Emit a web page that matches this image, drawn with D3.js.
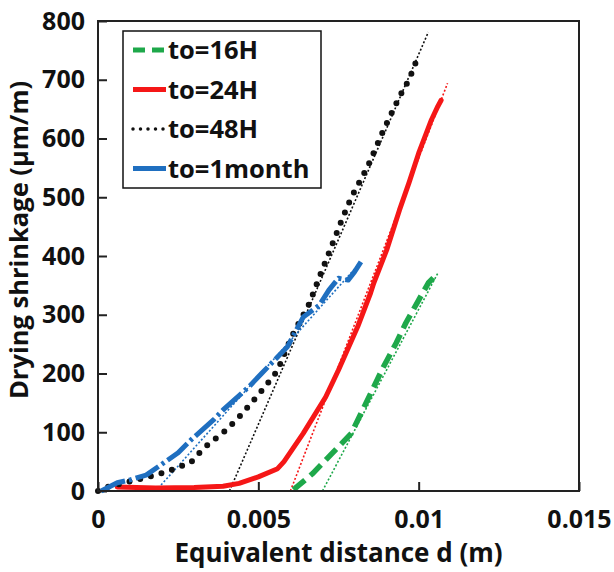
<!DOCTYPE html>
<html>
<head>
<meta charset="utf-8">
<script src="https://cdn.jsdelivr.net/npm/d3@7"></script>
<style>
  body { margin: 0; background: #fff; }
  text { font-family: "Open Sans", sans-serif; font-weight: bold; fill: #111; }
</style>
</head>
<body>
<div id="chart"></div>
<script>
// measured series, [d (m), shrinkage (µm/m)]
var pts16 = [[0.0061, 2], [0.0062, 7], [0.0067, 30], [0.0073, 64], [0.0079, 98], [0.0082, 132],
  [0.0086, 177], [0.0089, 211], [0.0093, 252], [0.0096, 286], [0.0100, 325], [0.0103, 354],
  [0.0106, 371]];
var pts24 = [[0.0006, 7], [0.0018, 5], [0.0030, 6], [0.0039, 8], [0.0044, 13], [0.0050, 24],
  [0.0056, 38], [0.0058, 50], [0.0064, 98], [0.0071, 160], [0.0075, 206], [0.0081, 280],
  [0.0085, 337], [0.0086, 354], [0.0090, 410], [0.0094, 478], [0.0097, 525], [0.0100, 575],
  [0.0104, 632], [0.0106, 655], [0.0107, 665]];
var pts48 = [[0.0000, 0], [0.0003, 7], [0.0012, 19], [0.0018, 27], [0.0023, 36], [0.0029, 49],
  [0.0033, 73], [0.0040, 104], [0.0044, 126], [0.0048, 151], [0.0052, 177], [0.0056, 205],
  [0.0059, 245], [0.0061, 269], [0.0066, 320], [0.0069, 364], [0.0072, 405], [0.0076, 461],
  [0.0079, 500], [0.0084, 551], [0.0089, 614], [0.0094, 671], [0.0097, 700], [0.0100, 742]];
var pts1m = [[0.0001, 0], [0.0006, 14], [0.0010, 19], [0.0015, 27], [0.0025, 65], [0.0029, 87],
  [0.0036, 121], [0.0039, 138], [0.0047, 177], [0.0051, 200], [0.0059, 245], [0.0064, 296],
  [0.0069, 316], [0.0072, 342], [0.0075, 362], [0.0078, 359], [0.0080, 373], [0.0082, 390]];

// fitted straight lines (start, end)
var fit16 = [[0.0070, 0], [0.0106, 371]];
var fit24 = [[0.0060, 0], [0.0109, 694]];
var fit48 = [[0.0041, 0], [0.0103, 781]];
var fit1m = [[0.0018, 0], [0.0082, 390]];

var xTicks = [0, 0.005, 0.01, 0.015];
var xTickLabels = ["0", "0.005", "0.01", "0.015"];
var yTicks = [0, 100, 200, 300, 400, 500, 600, 700, 800];
var seriesNames = ["to=16H", "to=24H", "to=48H", "to=1month"];

var W = 614, H = 572;
var margin = { top: 21, right: 35, bottom: 81, left: 98 };

var svg = d3.select("#chart").append("svg")
  .attr("width", W).attr("height", H);

var x = d3.scaleLinear().domain([0, 0.015]).range([margin.left, W - margin.right]);
var y = d3.scaleLinear().domain([0, 800]).range([H - margin.bottom, margin.top]);

var styles = [
  { pts: pts16, fit: fit16, color: "#1ea84a", width: 5.5, dash: "15,7", cap: "butt" },
  { pts: pts24, fit: fit24, color: "#f51717", width: 5, dash: null, cap: "round" },
  { pts: pts48, fit: fit48, color: "#111", width: 6, dash: "0,11", cap: "round" },
  { pts: pts1m, fit: fit1m, color: "#1f6fc0", width: 5, dash: "26,4,3,4", cap: "butt" }
];

var line = d3.line().x(function (d) { return x(d[0]); }).y(function (d) { return y(d[1]); });

// axes
svg.append("g")
  .attr("transform", "translate(0," + y(0) + ")")
  .call(d3.axisBottom(x).tickValues(xTicks)
    .tickFormat(function (d, i) { return xTickLabels[i]; })
    .tickSizeInner(-9).tickSizeOuter(0).tickPadding(19))
  .call(function (g) {
    g.select(".domain").remove();
    g.selectAll("line").attr("stroke", "#222").attr("stroke-width", 2);
    g.selectAll("text").style("font-size", "25px").attr("fill", "#111");
  });

svg.append("g")
  .attr("transform", "translate(" + x(0) + ",0)")
  .call(d3.axisLeft(y).tickValues(yTicks)
    .tickSizeInner(-9).tickSizeOuter(0).tickPadding(13))
  .call(function (g) {
    g.select(".domain").remove();
    g.selectAll("line").attr("stroke", "#222").attr("stroke-width", 2);
    g.selectAll("text").style("font-size", "25px").attr("fill", "#111");
  });

// fitted lines
styles.forEach(function (s) {
  svg.append("path")
    .attr("d", line(s.fit))
    .attr("fill", "none")
    .attr("stroke", s.color)
    .attr("stroke-width", 1.6)
    .attr("stroke-dasharray", "2,2");
});

// data curves
styles.forEach(function (s) {
  svg.append("path")
    .attr("d", line(s.pts))
    .attr("fill", "none")
    .attr("stroke", s.color)
    .attr("stroke-width", s.width)
    .attr("stroke-linecap", s.cap)
    .attr("stroke-linejoin", "round")
    .attr("stroke-dasharray", s.dash);
});

// frame
svg.append("rect")
  .attr("x", x(0)).attr("y", y(800))
  .attr("width", x(0.015) - x(0)).attr("height", y(0) - y(800))
  .attr("fill", "none").attr("stroke", "#222").attr("stroke-width", 2);

// axis titles
svg.append("text")
  .attr("x", (x(0) + x(0.015)) / 2).attr("y", 562)
  .attr("text-anchor", "middle").style("font-size", "26px")
  .text("Equivalent distance d (m)");

svg.append("text")
  .attr("transform", "translate(28," + 240 + ") rotate(-90)")
  .attr("text-anchor", "middle").style("font-size", "25.5px")
  .text("Drying shrinkage (µm/m)");

// legend
var leg = svg.append("g");
leg.append("rect")
  .attr("x", 123).attr("y", 31).attr("width", 198).attr("height", 157)
  .attr("fill", "#fff").attr("stroke", "#111").attr("stroke-width", 1.5);

var legendSwatch = [
  { dash: "12,7", cap: "butt", width: 5 },
  { dash: null, cap: "butt", width: 5 },
  { dash: "0,7.5", cap: "round", width: 3.5 },
  { dash: null, cap: "butt", width: 5 }
];

seriesNames.forEach(function (name, i) {
  var cy = 50 + i * 39.5;
  leg.append("line")
    .attr("x1", 133).attr("x2", 166).attr("y1", cy).attr("y2", cy)
    .attr("stroke", styles[i].color)
    .attr("stroke-width", legendSwatch[i].width)
    .attr("stroke-linecap", legendSwatch[i].cap)
    .attr("stroke-dasharray", legendSwatch[i].dash);
  leg.append("text")
    .attr("x", 168).attr("y", cy).attr("dy", "0.36em")
    .style("font-size", "25.5px")
    .text(name);
});
</script>
</body>
</html>
